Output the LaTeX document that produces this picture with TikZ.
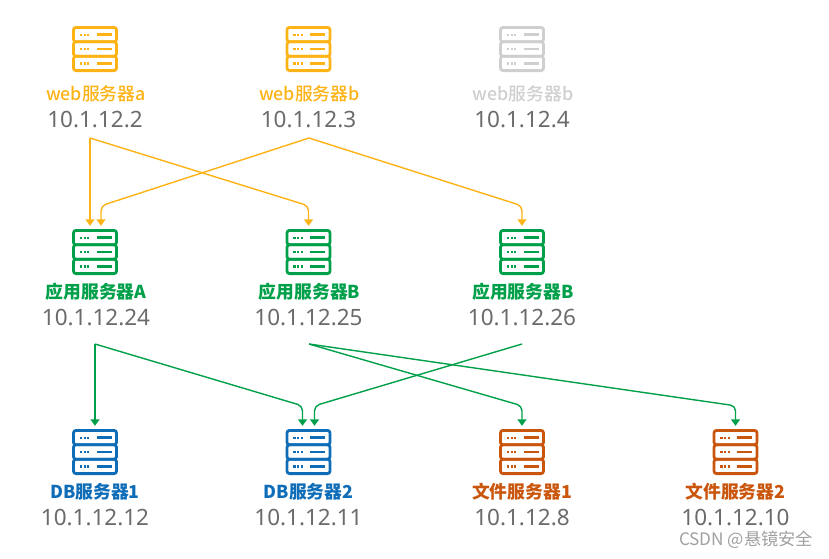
\documentclass[tikz,border=0pt]{standalone}
\usepackage{fontspec}
\usepackage{tikz}
\usetikzlibrary{shapes,arrows.meta,positioning}
\newfontfamily\cnfont{Noto Sans CJK SC}
\newfontfamily\namefont{Noto Sans CJK SC Medium}
\newfontfamily\ipfont{Noto Sans}
\definecolor{webc}{HTML}{FDB316}
\definecolor{offc}{HTML}{CFCFCF}
\definecolor{appc}{HTML}{00A04A}
\definecolor{dbc}{HTML}{0F6DB8}
\definecolor{filec}{HTML}{C9560C}
\definecolor{ipc}{HTML}{6B6B6B}
\definecolor{markc}{HTML}{A0A0A0}

\begin{document}
\begin{tikzpicture}[x=1pt, y=-1pt, node distance=213.5pt]
    \tikzset{server/.style={rectangle, inner sep=0pt, minimum width=46pt, minimum height=52pt,
        path picture={
            \begin{scope}[shift={(path picture bounding box.center)}, #1]
                \foreach \row in {-14.4,0,14.4} {
                    \draw [line width=2.8pt, rounded corners=2.5pt] (-21.5,\row-7.2) rectangle (21.5,\row+7.2);
                    \foreach \dot in {-14,-10.4,-6.8} \fill (\dot-1.1,\row-1.1) rectangle (\dot+1.1,\row+1.1);
                    \fill (1.7,\row-1.2) rectangle (16.7,\row+1.2);
                }
            \end{scope}
        }}}
    \tikzstyle{srvname} = [font=\namefont\fontsize{17.8}{17.8}\selectfont, inner sep=0pt]
    \tikzstyle{boldname} = [font=\cnfont\bfseries\fontsize{17.8}{17.8}\selectfont, inner sep=0pt]
    \tikzstyle{ip} = [font=\ipfont\fontsize{22.5}{22.5}\selectfont, text=ipc, inner sep=0pt, node distance=25pt]
    \tikzstyle{webarrow} = [draw=webc, line width=1.4pt, rounded corners=5pt, -{Triangle[width=9pt,length=6.5pt]}]
    \tikzstyle{apparrow} = [draw=appc, line width=1.4pt, rounded corners=5pt, -{Triangle[width=9pt,length=6.5pt]}]

    \useasboundingbox (0,0) rectangle (829,558);

    % web row
    \node [server=webc] (weba) at (95,49) {};
    \node [server=webc, right of=weba] (webb) {};
    \node [server=offc, right of=webb] (webc) {};
    \node [srvname, text=webc, below of=weba, node distance=45pt, xshift=1pt] (webaname) {web服务器a};
    \node [srvname, text=webc, below of=webb, node distance=45pt, xshift=1pt] (webbname) {web服务器b};
    \node [srvname, text=offc, below of=webc, node distance=45pt, xshift=1pt] (webcname) {web服务器b};
    \node [ip, below of=webaname, xshift=-1pt] (webaip) {10.1.12.2};
    \node [ip, below of=webbname, xshift=-1pt] (webbip) {10.1.12.3};
    \node [ip, below of=webcname, xshift=-1pt] (webcip) {10.1.12.4};

    % app row
    \node [server=appc] (appa) at (95,252) {};
    \node [server=appc, right of=appa] (appb) {};
    \node [server=appc, right of=appb] (appc) {};
    \node [boldname, text=appc, below of=appa, node distance=40pt, xshift=1pt] (appaname) {应用服务器A};
    \node [boldname, text=appc, below of=appb, node distance=40pt, xshift=1pt] (appbname) {应用服务器B};
    \node [boldname, text=appc, below of=appc, node distance=40pt, xshift=1pt] (appcname) {应用服务器B};
    \node [ip, below of=appaname] (appaip) {10.1.12.24};
    \node [ip, below of=appbname, xshift=-1pt] (appbip) {10.1.12.25};
    \node [ip, below of=appcname, xshift=-1pt] (appcip) {10.1.12.26};

    % db and file row
    \node [server=dbc] (dba) at (95,452) {};
    \node [server=dbc, right of=dba] (dbb) {};
    \node [server=filec, right of=dbb] (filea) {};
    \node [server=filec, right of=filea] (fileb) {};
    \node [boldname, text=dbc, below of=dba, node distance=40pt] (dbaname) {DB服务器1};
    \node [boldname, text=dbc, below of=dbb, node distance=40pt] (dbbname) {DB服务器2};
    \node [boldname, text=filec, below of=filea, node distance=40pt] (fileaname) {文件服务器1};
    \node [boldname, text=filec, below of=fileb, node distance=40pt] (filebname) {文件服务器2};
    \node [ip, below of=dbaname] (dbaip) {10.1.12.12};
    \node [ip, below of=dbbname] (dbbip) {10.1.12.11};
    \node [ip, below of=fileaname] (fileaip) {10.1.12.8};
    \node [ip, below of=filebname] (filebip) {10.1.12.10};

    \node [font=\cnfont\fontsize{17.2}{17.2}\selectfont, text=markc, inner sep=0pt] (mark) at (746,540) {CSDN @悬镜安全};

    \coordinate (webaout) at (90,138);
    \coordinate (webbout) at (309,138);
    \coordinate (appaout) at (95,344);
    \coordinate (appbout) at (309,344);
    \coordinate (appcout) at (522,344);

    \draw [webarrow] (webaout) -- ([xshift=-5pt]appa.north);
    \draw [webarrow] (webaout) -- ([yshift=20pt]appb.north) -- (appb.north);
    \draw [webarrow] (webbout) -- ([xshift=6pt,yshift=20pt]appa.north) -- ([xshift=6pt]appa.north);
    \draw [webarrow] (webbout) -- ([yshift=20pt]appc.north) -- (appc.north);

    \draw [apparrow] (appaout) -- (dba.north);
    \draw [apparrow] (appaout) -- ([xshift=-6pt,yshift=20pt]dbb.north) -- ([xshift=-6pt]dbb.north);
    \draw [apparrow] (appcout) -- ([xshift=6pt,yshift=20pt]dbb.north) -- ([xshift=6pt]dbb.north);
    \draw [apparrow] (appbout) -- ([yshift=20pt]filea.north) -- (filea.north);
    \draw [apparrow] (appbout) -- ([yshift=20pt]fileb.north) -- (fileb.north);
\end{tikzpicture}
\end{document}
